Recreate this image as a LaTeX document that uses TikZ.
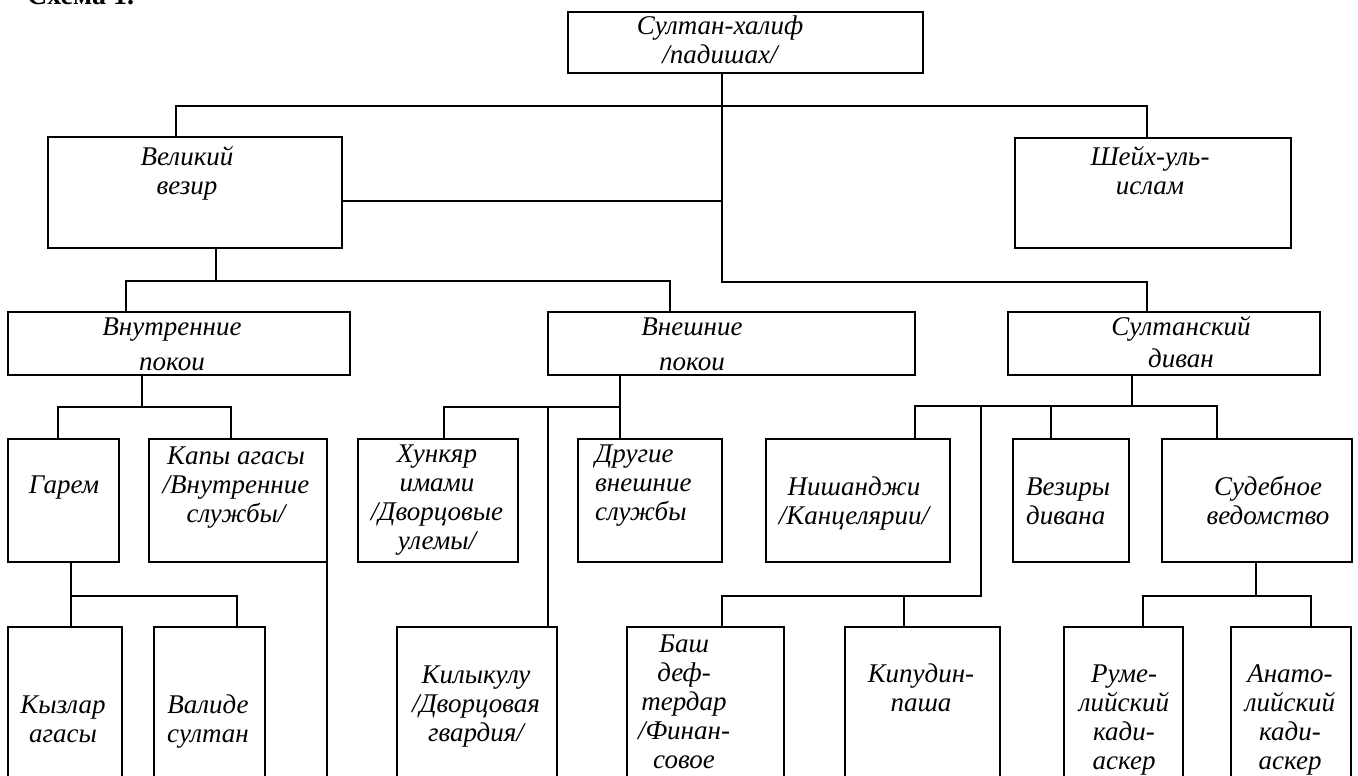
\documentclass[tikz,border=0pt]{standalone}
\usepackage{fontspec}
\setmainfont{Liberation Serif}
\begin{document}
\begin{tikzpicture}[x=1pt,y=-1pt,
  box/.style={draw,line width=2pt,inner sep=0pt,outer sep=0pt,anchor=north west},
  lbl/.style={inner sep=0pt,anchor=base,font=\fontsize{27}{29}\selectfont\itshape},
  lblw/.style={lbl,anchor=base west},
  conn/.style={line width=2pt}]
\clip (0,0) rectangle (1358,776);
\newcommand\bx[5]{\node[box,minimum width={#4-#2},minimum height={#5-#3}] (#1) at (#2,#3) {};}
\newcommand\lb[4]{\node[lbl] (#1) at (#2,#3) {\begin{tabular}[t]{@{}c@{}}#4\end{tabular}};}
\newcommand\lbw[4]{\node[lblw] (#1) at (#2,#3) {\begin{tabular}[t]{@{}l@{}}#4\end{tabular}};}
% title
\node[inner sep=0pt,anchor=base west,font=\fontsize{28}{30}\selectfont\bfseries] (title) at (27,5) {Схема 1.};
% boxes
\bx{sultan}{568}{12}{923}{73}
\bx{vel}{48}{137}{342}{248}
\bx{sheikh}{1015}{138}{1291}{248}
\bx{vnutr}{8}{312}{350}{375}
\bx{vnesh}{548}{312}{915}{375}
\bx{divan}{1008}{312}{1320}{375}
\bx{garem}{8}{439}{119}{562}
\bx{kapy}{149}{439}{327}{562}
\bx{khunk}{358}{439}{518}{562}
\bx{drugie}{578}{439}{722}{562}
\bx{nish}{766}{439}{950}{562}
\bx{vez}{1013}{439}{1129}{562}
\bx{sud}{1162}{439}{1352}{562}
\bx{kyz}{8}{627}{122}{800}
\bx{val}{154}{627}{265}{800}
\bx{kily}{397}{627}{557}{800}
\bx{bash}{627}{627}{784}{800}
\bx{kip}{845}{627}{1000}{800}
\bx{rum}{1064}{627}{1183}{800}
\bx{ana}{1231}{627}{1351}{800}
% labels
\lb{sultan-t}{720}{35}{Султан-халиф\\/падишах/}
\lb{vel-t}{187}{165}{Великий\\везир}
\lb{sheikh-t}{1150}{165}{Шейх-уль-\\ислам}
\lb{vnutr-t}{172}{335}{Внутренние\\[6pt]покои}
\lb{vnesh-t}{692}{335}{Внешние\\[6pt]покои}
\lb{divan-t}{1181}{335}{Султанский\\[3pt]диван}
\lb{garem-t}{64}{493}{Гарем}
\lb{kapy-t}{236}{464}{Капы агасы\\/Внутренние\\службы/}
\lb{khunk-t}{437}{462}{Хункяр\\имами\\/Дворцовые\\улемы/}
\lbw{drugie-t}{595}{462}{Другие\\внешние\\службы}
\lb{nish-t}{854}{495}{Нишанджи\\/Канцелярии/}
\lbw{vez-t}{1026}{495}{Везиры\\дивана}
\lb{sud-t}{1268}{495}{Судебное\\ведомство}
\lb{kyz-t}{63}{713}{Кызлар\\агасы}
\lb{val-t}{208}{713}{Валиде\\султан}
\lb{kily-t}{476}{683}{Килыкулу\\/Дворцовая\\гвардия/}
\lb{bash-t}{684}{652}{Баш\\деф-\\тердар\\/Финан-\\совое}
\lb{kip-t}{921}{682}{Кипудин-\\паша}
\lb{rum-t}{1124}{682}{Руме-\\лийский\\кади-\\аскер}
\lb{ana-t}{1290}{682}{Анато-\\лийский\\кади-\\аскер}
% junction x positions
\coordinate (xs) at (722,0);
\coordinate (xd) at (1147,0);
\coordinate (xv) at (176,0);
\coordinate (xvs) at (216,0);
\coordinate (xa) at (126,0);
\coordinate (xb) at (670,0);
\coordinate (xi) at (142,0);
\coordinate (xg1) at (58,0);
\coordinate (xg2) at (231,0);
\coordinate (xgs) at (71,0);
\coordinate (xval) at (237,0);
\coordinate (xe) at (620,0);
\coordinate (xkh) at (444,0);
\coordinate (xki) at (548,0);
\coordinate (xdv) at (1132,0);
\coordinate (xn) at (915,0);
\coordinate (xf) at (981,0);
\coordinate (xz) at (1051,0);
\coordinate (xsd) at (1217,0);
\coordinate (xbs) at (722,0);
\coordinate (xkp) at (904,0);
\coordinate (xss) at (1256,0);
\coordinate (xr) at (1143,0);
\coordinate (xan) at (1311,0);
\coordinate (bot) at (327,800);
% connectors
\draw[conn] (sultan.south -| xs) |- (xd |- 0,282) -- (divan.north -| xd);
\draw[conn] (vel.north -| xv) -- (xv |- 0,106) -- (xd |- 0,106) -- (sheikh.north -| xd);
\draw[conn] (vel.east |- 0,201) -- (xs |- 0,201);
\draw[conn] (vel.south -| xvs) -- (xvs |- 0,281);
\draw[conn] (vnutr.north -| xa) |- (xb |- 0,281) -- (vnesh.north -| xb);
\draw[conn] (vnutr.south -| xi) -- (xi |- 0,407);
\draw[conn] (garem.north -| xg1) |- (xg2 |- 0,407) -- (kapy.north -| xg2);
\draw[conn] (garem.south -| xgs) -- (kyz.north -| xgs);
\draw[conn] (xgs |- 0,596) -| (val.north -| xval);
\draw[conn] (kapy.south east) -- (bot);
\draw[conn] (vnesh.south -| xe) -- (drugie.north -| xe);
\draw[conn] (khunk.north -| xkh) |- (xe |- 0,407);
\draw[conn] (xki |- 0,407) -- (kily.north -| xki);
\draw[conn] (divan.south -| xdv) -- (xdv |- 0,406);
\draw[conn] (nish.north -| xn) |- (xsd |- 0,406) -- (sud.north -| xsd);
\draw[conn] (xz |- 0,406) -- (vez.north -| xz);
\draw[conn] (xf |- 0,406) -- (xf |- 0,596) -- (xbs |- 0,596) -- (bash.north -| xbs);
\draw[conn] (xkp |- 0,596) -- (kip.north -| xkp);
\draw[conn] (sud.south -| xss) -- (xss |- 0,596);
\draw[conn] (rum.north -| xr) |- (xan |- 0,596) -- (ana.north -| xan);
\end{tikzpicture}
\end{document}
